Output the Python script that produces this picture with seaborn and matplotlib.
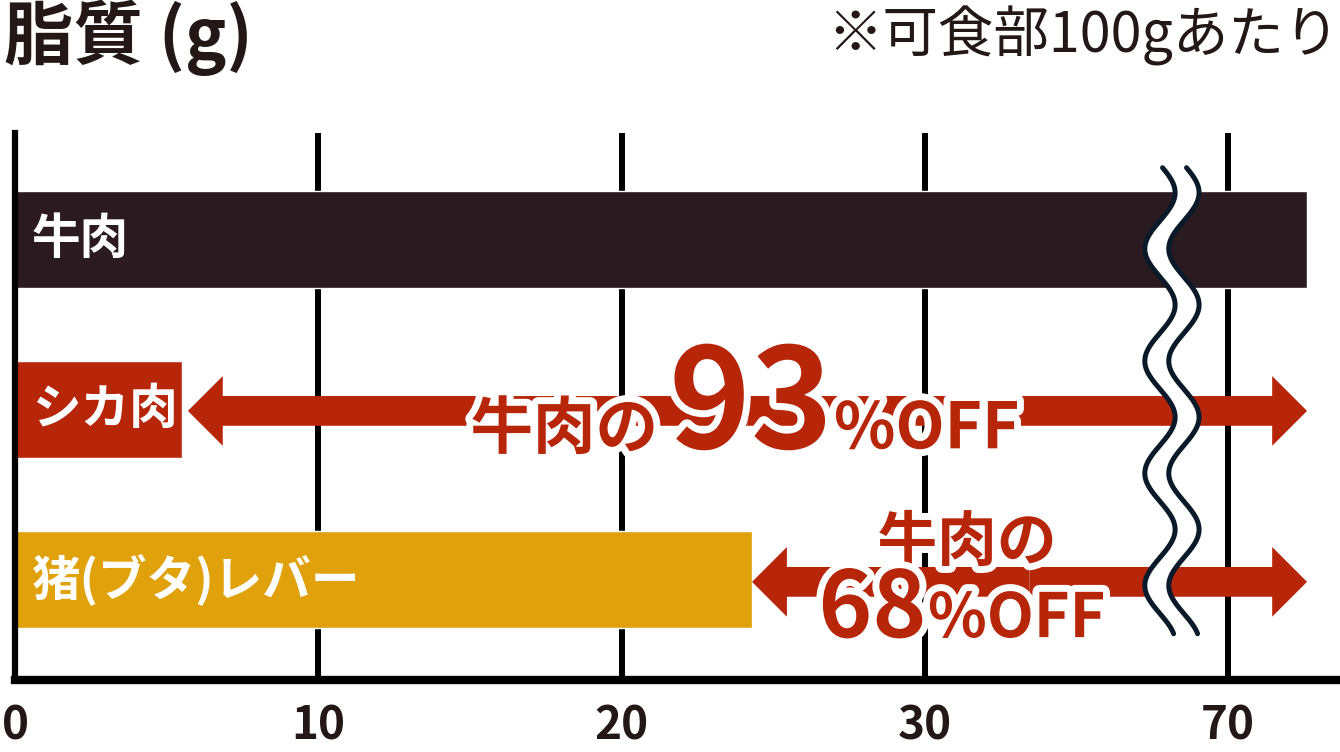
import matplotlib
matplotlib.use('Agg')
import matplotlib.pyplot as plt
import matplotlib.patheffects as pe
from matplotlib.patches import FancyArrow
import numpy as np
import pandas as pd
import seaborn as sns

# ---- data ----
categories = ['牛肉', 'シカ肉', '猪(ブタ)レバー']
fat_g = [72.6, 5.5, 24.3]
bar_colors = ['#2B1A1F', '#B8260A', '#E0A10A']
tick_values = [0, 10, 20, 30, 70]
tick_labels = ['0', '10', '20', '30', '70']
off_pct_labels = ['93', '68']
title = '脂質 (g)'
note = '※可食部100gあたり'

BREAK_FROM = 40   # axis position where the scale jumps
BREAK_TO = 70


def disp(v):
    return v if v <= BREAK_FROM else v - (BREAK_TO - BREAK_FROM)


df = pd.DataFrame({'food': categories, 'pos': [disp(v) for v in fat_g]})

sns.set_theme(style='white')
plt.rcParams['font.family'] = ['Noto Sans CJK JP', 'DejaVu Sans']

W, H = 1340, 752
fig = plt.figure(figsize=(W / 100, H / 100), dpi=100)
ax = fig.add_axes([15 / W, 1 - 680 / H, 1323 / W, (680 - 133) / H])

sns.barplot(data=df, x='pos', y='food', hue='food', palette=bar_colors,
            width=0.57, legend=False, ax=ax, saturation=1, zorder=2)

ax.set_xlim(0, 43.62)
ax.set_ylim(2.592, -0.624)
ax.set_xticks([disp(t) for t in tick_values])
ax.set_xticklabels(tick_labels)
ax.set_yticks([])
ax.set_xlabel('')
ax.set_ylabel('')
ax.set_axisbelow(True)
ax.xaxis.grid(True, color='black', lw=4.3)
ax.yaxis.grid(False)
for s in ['top', 'right']:
    ax.spines[s].set_visible(False)
ax.spines['left'].set_color('black')
ax.spines['left'].set_linewidth(4.5)
ax.spines['bottom'].set_color('black')
ax.spines['bottom'].set_linewidth(6)
ax.tick_params(axis='x', length=0, pad=17, labelsize=33, labelcolor='#231815')
for t in ax.get_xticklabels():
    t.set_fontweight('bold')

# labels inside bars
for i, cat in enumerate(categories):
    ax.text(0.55, i, cat, color='white', fontsize=35, fontweight='bold',
            va='center', ha='left', zorder=5)

red = '#B8260A'
beef_pos = disp(fat_g[0])


def double_arrow(x0, x1, y):
    mid = (x0 + x1) / 2
    kw = dict(width=0.175, head_width=0.41, head_length=1.15,
              length_includes_head=True, color=red, lw=0, zorder=3)
    ax.add_patch(FancyArrow(mid, y, x0 - mid, 0, **kw))
    ax.add_patch(FancyArrow(mid, y, x1 - mid, 0, **kw))


double_arrow(disp(fat_g[1]) + 0.2, beef_pos, 1.01)
double_arrow(disp(fat_g[2]), beef_pos, 2.015)

# axis-break wave
yy = np.linspace(-0.42, 2.32, 400)
wave = 0.5 * np.sin(2 * np.pi * (yy + 0.438) / 0.66)
xl = 37.75 + wave
xr = 38.54 + wave
ax.fill_betweenx(yy, xl, xr, color='white', lw=0, zorder=4)
ax.plot(xl, yy, color='#0A1A2A', lw=3.6, zorder=4.5)
ax.plot(xr, yy, color='#0A1A2A', lw=3.6, zorder=4.5)

# OFF annotations
stroke = [pe.withStroke(linewidth=10, foreground='white')]
tkw = dict(color=red, fontweight='bold', va='baseline', path_effects=stroke, zorder=6)
ax.text(21.2, 1.23, '牛肉の', ha='right', fontsize=45, **tkw)
ax.text(24.26, 1.23, off_pct_labels[0], ha='center', fontsize=100, **tkw)
ax.text(27.0, 1.23, '%OFF', ha='left', fontsize=46, **tkw)

ax.text(31.39, 1.89, '牛肉の', ha='center', fontsize=43, **tkw)
ax.text(30.05, 2.34, off_pct_labels[1], ha='right', fontsize=66, **tkw)
ax.text(30.1, 2.34, '%OFF', ha='left', fontsize=44, **tkw)

fig.text(0.003, 1.0, title, fontsize=50, fontweight='bold', va='top', ha='left', color='#231815')
fig.text(0.9995, 0.992, note, fontsize=40, va='top', ha='right', color='#231815')

fig.savefig('out.png', dpi=100)
